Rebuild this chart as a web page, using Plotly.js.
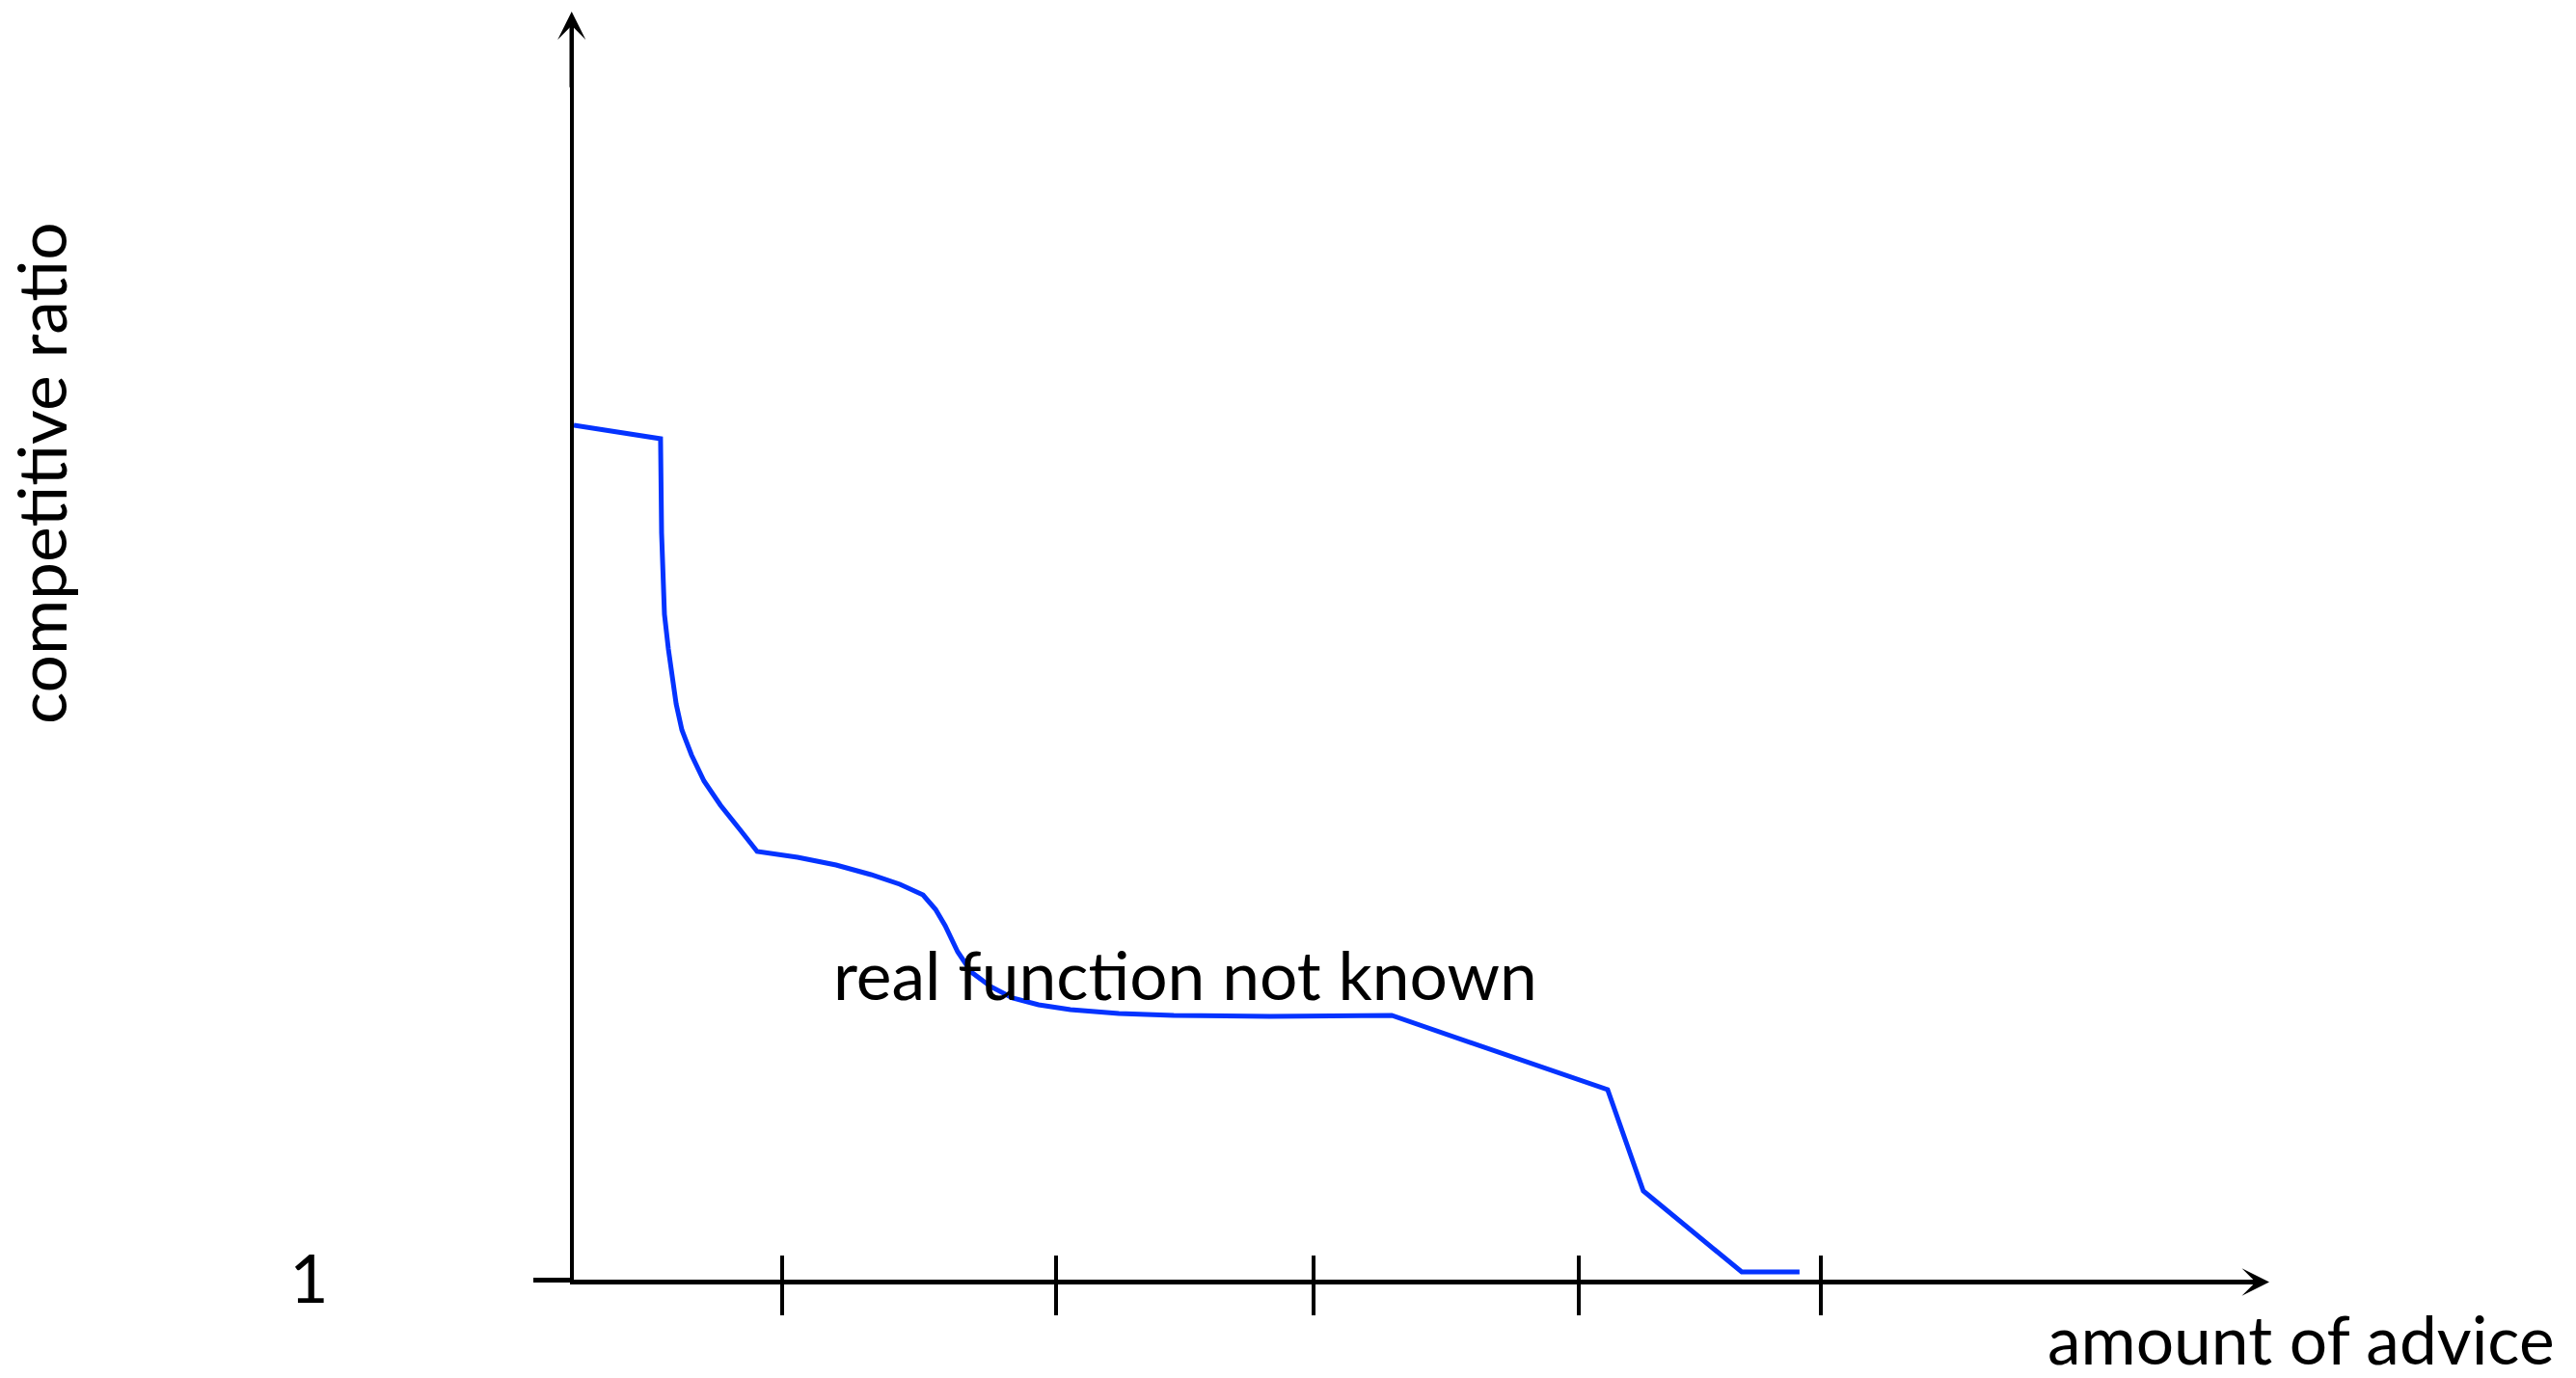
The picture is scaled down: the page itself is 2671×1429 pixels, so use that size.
<!DOCTYPE html>
<html>
<head>
<meta charset="utf-8">
<script src="https://cdn.plot.ly/plotly-3.0.1.min.js"></script>
<style>
  html, body { margin: 0; padding: 0; background: #ffffff; }
  #chart { width: 2671px; height: 1429px; }
</style>
</head>
<body>
<div id="chart"></div>
<script>
// ---- data ----
const adviceAmount = [
  0.000, 0.333, 0.337, 0.341, 0.348, 0.363, 0.378, 0.393, 0.415, 0.452,
  0.500, 0.563, 0.637, 0.704, 0.859, 1.007, 1.141, 1.252, 1.341, 1.389,
  1.426, 1.474, 1.526, 1.600, 1.685, 1.785, 1.907, 2.093, 2.304, 2.674,
  3.141, 3.970, 4.107, 4.485, 4.707
];
const competitiveRatio = [
  9.86, 9.72, 8.74, 8.40, 7.90, 7.54, 7.24, 6.97, 6.70, 6.44,
  6.17, 5.92, 5.67, 5.44, 5.38, 5.30, 5.20, 5.10, 4.99, 4.84,
  4.67, 4.40, 4.19, 4.04, 3.92, 3.85, 3.80, 3.76, 3.74, 3.73,
  3.74, 2.97, 1.92, 1.08, 1.08
];
const xTickPositions = [0.80, 1.85, 2.84, 3.86, 4.79];
const yTickValues = [1];
const yTickLabels = ['1'];
const xRange = [0, 6.4815];
const yRange = [1, 14.07];
const curveLabel = 'real function not known';
const xTitle = 'amount of advice';
const yTitle = 'competitive ratio';

const FONT = 'Lato, "Open Sans", sans-serif';
const FS = 69.5;
const BLUE = '#0433ff';

const traces = [
  {
    type: 'scatter', mode: 'lines',
    x: adviceAmount, y: competitiveRatio,
    line: { color: BLUE, width: 5 },
    hoverinfo: 'skip', showlegend: false
  },
  {
    // empty trace so the overlaid tick axes get a subplot
    type: 'scatter', mode: 'lines', x: [], y: [],
    xaxis: 'x2', yaxis: 'y2', hoverinfo: 'skip', showlegend: false
  }
];

const layout = {
  width: 2671, height: 1429,
  margin: { l: 595, r: 326, t: 20, b: 102, pad: 0 },
  paper_bgcolor: '#ffffff', plot_bgcolor: 'rgba(0,0,0,0)',
  font: { family: FONT, size: FS, color: '#000' },
  showlegend: false,
  xaxis: {
    range: xRange, showgrid: false, zeroline: false,
    showline: true, linecolor: '#000', linewidth: 5,
    tickmode: 'array', tickvals: xTickPositions,
    ticks: 'outside', ticklen: 32, tickwidth: 4, tickcolor: '#000',
    showticklabels: false, fixedrange: true
  },
  xaxis2: {
    range: xRange, overlaying: 'x', anchor: 'y2', side: 'bottom',
    showgrid: false, zeroline: false, showline: false,
    tickmode: 'array', tickvals: xTickPositions,
    ticks: 'inside', ticklen: 25, tickwidth: 4, tickcolor: '#000',
    showticklabels: false, fixedrange: true
  },
  yaxis: {
    range: yRange, showgrid: false, zeroline: false,
    showline: true, linecolor: '#000', linewidth: 4.5,
    tickmode: 'array', tickvals: yTickValues, ticktext: yTickLabels,
    ticks: 'outside', ticklen: 38, tickwidth: 5, tickcolor: '#000',
    ticklabelstandoff: 198,
    tickfont: { family: FONT, size: FS, color: '#000' },
    fixedrange: true
  },
  yaxis2: {
    range: yRange, overlaying: 'y', anchor: 'x2', side: 'left',
    showgrid: false, zeroline: false, showline: false,
    tickmode: 'array', tickvals: yTickValues,
    ticks: 'inside', ticklen: 32, tickwidth: 5, tickcolor: '#000',
    showticklabels: false, fixedrange: true
  },
  annotations: [
    // arrowheads at the axis ends
    { xref: 'x', yref: 'y', x: xRange[1], y: yRange[0], text: '', showarrow: true,
      ax: -80, ay: 0, arrowhead: 3, arrowsize: 0.95, arrowwidth: 5, arrowcolor: '#000',
      xshift: 8, yshift: -2.5 },
    { xref: 'x', yref: 'y', x: xRange[0], y: yRange[1], text: '', showarrow: true,
      ax: 0, ay: 80, arrowhead: 3, arrowsize: 1.08, arrowwidth: 4.5, arrowcolor: '#000',
      xshift: -2.25, yshift: 8 },
    // texts
    { xref: 'paper', yref: 'paper', x: 1.1749, y: -0.0465, xanchor: 'right', yanchor: 'middle',
      text: xTitle, showarrow: false, font: { family: FONT, size: FS, color: '#000' } },
    { xref: 'paper', yref: 'paper', x: -0.316, y: 0.6396, xanchor: 'center', yanchor: 'middle',
      text: yTitle, textangle: -90, showarrow: false, font: { family: FONT, size: FS, color: '#000' } },
    { xref: 'paper', yref: 'paper', x: 0.1526, y: 0.2425, xanchor: 'left', yanchor: 'middle',
      text: curveLabel, showarrow: false, font: { family: FONT, size: FS, color: '#000' } }
  ]
};

Plotly.newPlot('chart', traces, layout, { displayModeBar: false, staticPlot: true });
</script>
</body>
</html>
